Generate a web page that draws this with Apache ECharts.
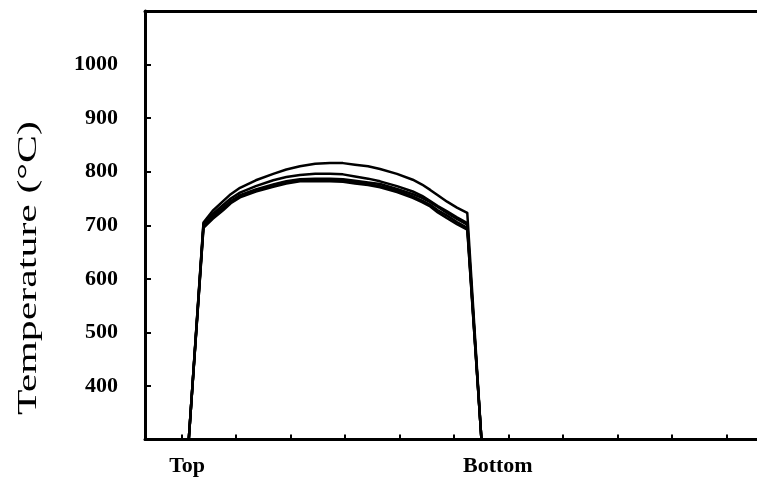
<!DOCTYPE html>
<html>
<head>
<meta charset="utf-8">
<script src="https://cdn.jsdelivr.net/npm/echarts@6/dist/echarts.min.js"></script>
<style>html,body{margin:0;padding:0;background:#fff;}#c{width:757px;height:483px;}</style>
</head>
<body>
<div id="c"></div>
<script>
// Positions along the column (tick spacing = 1 unit)
const xPos = [0.13, 0.40, 0.57, 0.76, 0.90, 1.07, 1.36, 1.68, 1.92, 2.17, 2.45, 2.72, 2.96, 3.18, 3.42, 3.64, 3.95, 4.24, 4.41, 4.56, 4.70, 4.87, 5.05, 5.24, 5.50];
// Temperature profiles (°C)
const profile1 = [300, 705, 727, 745, 758, 770, 784, 796, 804, 810, 815, 816, 816, 813, 810, 805, 796, 785, 776, 766, 756, 744, 733, 723, 300];
const profile2 = [300, 703, 721, 738, 750, 761, 773, 784, 790, 794, 796, 796, 795, 791, 787, 782, 773, 763, 755, 745, 736, 726, 715, 704, 300];
const profile3 = [300, 700, 717, 733, 745, 756, 767, 776, 782, 786, 787, 787, 786, 783, 780, 777, 768, 758, 751, 743, 734, 723, 712, 701, 300];
const profile4 = [300, 697, 714, 730, 743, 754, 765, 774, 780, 784, 784, 784, 783, 780, 777, 773, 765, 754, 746, 738, 728, 718, 706, 695, 300];
const profile5 = [300, 695, 712, 728, 741, 752, 763, 772, 778, 782, 782, 782, 781, 778, 775, 771, 762, 751, 743, 735, 724, 713, 702, 692, 300];
const profiles = [profile1, profile2, profile3, profile4, profile5];

const xTicks = [0, 1, 2, 3, 4, 5, 6, 7, 8, 9, 10];
const xLabelValues = [0.1, 5.8];
const xLabelTexts = ['Top', 'Bottom'];
const yTicks = [400, 500, 600, 700, 800, 900, 1000];
const yTitle = 'Temperature (°C)';

const chart = echarts.init(document.getElementById('c'), null, {renderer: 'canvas'});
const axisCol = '#000';
chart.setOption({
  animation: false,
  backgroundColor: '#fff',
  grid: {left: 145, top: 11, right: 0, bottom: 43.5, containLabel: false},
  xAxis: [{
    type: 'value', min: -0.673, max: 10.556,
    axisLine: {show: true, onZero: false, lineStyle: {color: axisCol, width: 3}},
    axisTick: {show: true, inside: true, length: 5, customValues: xTicks, lineStyle: {color: axisCol, width: 2}},
    axisLabel: {
      show: true, customValues: xLabelValues, margin: 16,
      formatter: function (v) { const i = xLabelValues.indexOf(v); return i >= 0 ? xLabelTexts[i] : ''; },
      fontFamily: 'Liberation Serif', fontWeight: 'bold', fontSize: 22, color: '#000'
    },
    splitLine: {show: false}
  }, {
    type: 'value', position: 'top', min: 0, max: 1,
    axisLine: {show: true, onZero: false, lineStyle: {color: axisCol, width: 3}},
    axisTick: {show: false}, axisLabel: {show: false}, splitLine: {show: false}
  }],
  yAxis: {
    type: 'value', min: 300, max: 1100,
    axisLine: {show: true, onZero: false, lineStyle: {color: axisCol, width: 3}},
    axisTick: {show: true, inside: true, length: 6, customValues: yTicks, lineStyle: {color: axisCol, width: 2}},
    axisLabel: {
      show: true, customValues: yTicks, margin: 27,
      formatter: function (v) { return String(v); },
      fontFamily: 'Liberation Serif', fontWeight: 'bold', fontSize: 22, color: '#000'
    },
    splitLine: {show: false}
  },
  graphic: [{
    type: 'text', x: 29, y: 268, rotation: Math.PI / 2, scaleX: 1.55,
    style: {text: yTitle, font: '27px "Liberation Serif"', fill: '#000', textAlign: 'center', textVerticalAlign: 'middle'}
  }],
  series: profiles.map(function (p) {
    return {
      type: 'line', xAxisIndex: 0, symbol: 'none', smooth: false,
      lineStyle: {color: '#000', width: 2.5, join: 'round'},
      data: xPos.map(function (x, i) { return [x, p[i]]; })
    };
  })
});
</script>
</body>
</html>
